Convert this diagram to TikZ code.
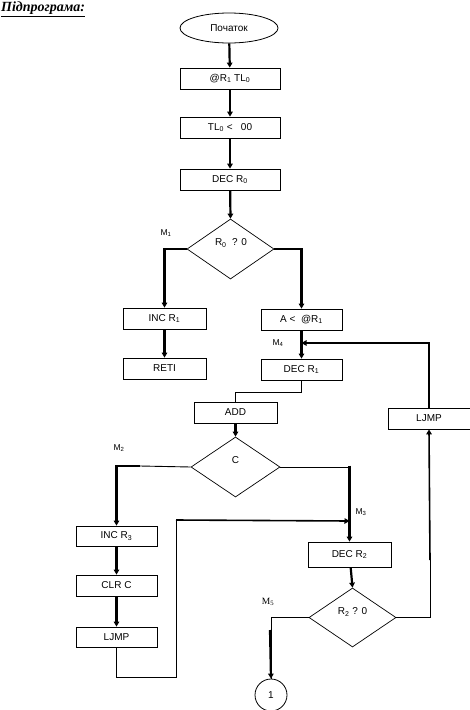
\documentclass[tikz,border=0pt]{standalone}
\usepackage{fontspec}
\setmainfont{Liberation Sans}
\newfontfamily\serifttl{Liberation Serif}
\usetikzlibrary{shapes.geometric,arrows.meta,calc}
\begin{document}
\begin{tikzpicture}[x=1pt,y=-1pt,
  blk/.style={draw,line width=0.8pt,minimum width=82pt,minimum height=21pt,inner sep=0pt,font=\fontsize{10}{11}\selectfont},
  dia/.style={draw,diamond,line width=0.7pt,inner sep=0pt},
  txt/.style={inner sep=0pt,font=\fontsize{10}{11}\selectfont},
  lab/.style={inner sep=0pt,font=\fontsize{8.5}{9}\selectfont},
  thk/.style={line width=2.2pt,-{Triangle[length=5pt,width=5.5pt]}},
  thn/.style={line width=0.9pt}]
\useasboundingbox (0,0) rectangle (470,710);
\node[anchor=west,inner sep=0pt,font=\serifttl\fontsize{14}{16}\selectfont\bfseries\itshape] (ttl) at (1,9) {\underline{Підпрограма:}};
\node[draw,ellipse,line width=0.8pt,minimum width=98pt,minimum height=30pt,inner sep=0pt,txt] (st) at (229,28) {Початок};
\node[blk,minimum width=100pt] (b1) at (230,78.5) {@R\textsubscript{1} TL\textsubscript{0}};
\node[blk,minimum width=100pt] (b2) at (230,127.5) {TL\textsubscript{0} \textless\ \ \ 00};
\node[blk,minimum width=100pt] (b3) at (230,179.5) {DEC R\textsubscript{0}};
\node[dia,minimum width=87pt,minimum height=60pt] (d1) at (230.5,249) {};
\node[txt] (d1t) at (231,243) {R\textsubscript{0}\ \ ? 0};
\node[blk,minimum width=83pt] (inc1) at (164.5,318.5) {INC R\textsubscript{1}};
\node[blk,minimum width=83pt] (reti) at (164.5,368.5) {RETI};
\node[blk,minimum width=81pt] (amov) at (301.5,319.5) {A \textless\ \ @R\textsubscript{1}};
\node[blk,minimum width=81pt] (dec1) at (301.5,369.5) {DEC R\textsubscript{1}};
\node[blk,minimum width=83pt] (add) at (235.5,412.5) {ADD};
\node[dia,minimum width=89pt,minimum height=60pt] (d2) at (235.5,467) {};
\node[txt] (d2t) at (235.5,460) {C};
\node[blk,minimum width=81pt,minimum height=20pt] (inc3) at (116.5,536) {INC R\textsubscript{3}};
\node[blk,minimum width=81pt] (clr) at (116.5,585.5) {CLR C};
\node[blk,minimum width=81pt,minimum height=20pt] (lj1) at (116.5,637) {LJMP};
\node[blk,minimum width=82pt] (lj2) at (429,418.5) {LJMP};
\node[blk,minimum width=83pt,minimum height=25pt] (dec2) at (349.5,554.5) {DEC R\textsubscript{2}};
\node[dia,minimum width=87pt,minimum height=59pt] (d3) at (352.5,617.5) {};
\node[txt] (d3t) at (352.5,612) {R\textsubscript{2} ? 0};
\node[draw,circle,line width=0.8pt,minimum size=32pt,inner sep=0pt,txt] (c1) at (271,695) {1};
\node[lab] (m1) at (166,233) {M\textsubscript{1}};
\node[lab] (m4) at (278,343) {M\textsubscript{4}};
\node[lab] (m2) at (119,448) {M\textsubscript{2}};
\node[lab] (m3) at (361,512) {M\textsubscript{3}};
\node[inner sep=0pt,font=\serifttl\fontsize{9.5}{10}\selectfont] (m5) at (268,602) {M\textsubscript{5}};
\coordinate (j4) at (301.5,343);
\coordinate (j3) at (349.5,521);
\coordinate (c2) at (140,466);
\coordinate (lp) at (176,677);
\draw[thk] (st) -- (b1);
\draw[thk] (b1) -- (b2);
\draw[thk] (b2) -- (b3);
\draw[thk] (b3) -- (d1.north);
\draw[thk] (d1.west) -| (inc1.north);
\draw[thk] (inc1) -- (reti);
\draw[thk] (d1.east) -| (amov.north);
\draw[thk] (amov) -- (dec1);
\draw[thk] (lj2.north) |- (j4);
\draw[thn] (dec1.south) -- ++(0,12) -| (add.north);
\draw[thk] (add) -- (d2.north);
\draw[thn] (d2.west) -- (c2);
\draw[thk] (c2) -| (inc3.north);
\draw[thn] (d2.east) -| ($(dec2.north)+(0,-70)$);
\draw[thk] ($(dec2.north)+(0,-76)$) -- (dec2.north);
\draw[thk] (inc3) -- (clr);
\draw[thk] (clr) -- (lj1);
\draw[thn] (lj1.south) |- (lp) -- (176,520);
\draw[line width=1.6pt,-{Triangle[length=5pt,width=5.5pt]}] (176,520) -- (j3);
\draw[thk] (dec2) -- (d3.north);
\draw[thn] (d3.west) -| (c1.north);
\draw[thk] (270,630) -- (c1.north);
\draw[thn] (d3.east) -| (430,560);
\draw[line width=1.6pt,-{Triangle[length=5pt,width=5.5pt]}] (430,560) -- (lj2.south);
\end{tikzpicture}
\end{document}
